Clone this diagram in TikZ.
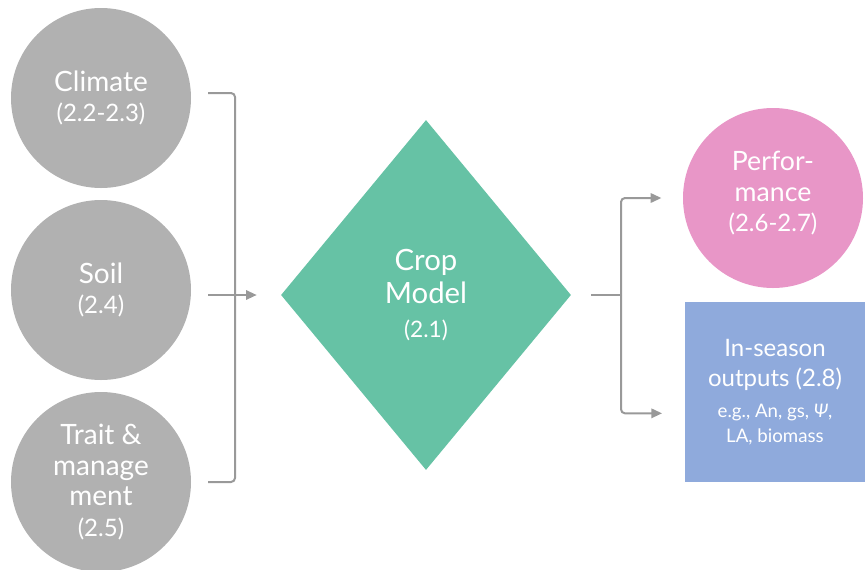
\documentclass[tikz,border=0pt]{standalone}
\usepackage{fontspec}
\setmainfont{Lato}
\usetikzlibrary{positioning}
\usetikzlibrary{shapes.geometric}
\usetikzlibrary {arrows.meta}
\definecolor{cgray}{HTML}{B1B1B1}
\definecolor{cgreen}{HTML}{66C2A5}
\definecolor{cpink}{HTML}{E896C7}
\definecolor{cblue}{HTML}{8FAADC}
\definecolor{cline}{HTML}{999999}

\begin{document}
\begin{tikzpicture}[x=0.75pt, y=-0.75pt]
    \tikzset{
        input/.style={circle, fill=cgray, text=white, align=center, minimum size=135pt, inner sep=0pt, font=\fontsize{21}{23}\selectfont},
        output/.style={circle, fill=cpink, text=white, align=center, minimum size=135pt, inner sep=0pt, font=\fontsize{20}{23}\selectfont},
        model/.style={diamond, fill=cgreen, text=white, align=center, minimum width=217.5pt, minimum height=262.5pt, inner sep=0pt, font=\fontsize{22}{25}\selectfont},
        season/.style={rectangle, fill=cblue, text=white, align=center, minimum width=135pt, minimum height=135pt, inner sep=0pt, font=\fontsize{18}{23}\selectfont}
    }
    \tikzset{
        bracket/.style={draw=cline, line width=1.5pt, rounded corners=3pt},
        flow/.style={bracket, -{Triangle[length=8pt, width=7pt]}}
    }

    \useasboundingbox (0,0) rectangle (865,569);

    \node[input] (climate) at (101,98) {Climate\\{\fontsize{18}{23}\selectfont (2.2-2.3)}};
    \node[input] (soil) at (101,290) {Soil\\{\fontsize{18}{23}\selectfont (2.4)}};
    \node[input] (trait) at (101,482) {Trait \&\\manage\\ment\\{\fontsize{18}{23}\selectfont (2.5)}};

    \node[model] (crop) at (426,295) {Crop\\Model\\{\fontsize{17}{23}\selectfont (2.1)}};

    \node[output] (perf) at (773,198) {Perfor-\\mance\\{\fontsize{18}{23}\selectfont (2.6-2.7)}\\[-13pt]};
    \node[season] (inseason) at (775,392) {In-season\\outputs (2.8)\\{\fontsize{14}{17}\selectfont e.g., An, gs, \textit{Ψ},}\\[-4pt]{\fontsize{14}{17}\selectfont LA, biomass}};

    \coordinate (climate_out) at (208,93);
    \coordinate (soil_out) at (208,295);
    \coordinate (trait_out) at (208,482);
    \coordinate (crop_out) at (621,295);

    \path[bracket] (climate_out) -| (235,482) -- (trait_out);
    \path[flow] (soil_out) -- ([xshift=-18pt]crop.west);
    \path[bracket] ([xshift=15pt]crop.east) -- (crop_out);
    \path[flow] (crop_out) |- ([xshift=-16pt]perf.west);
    \path[flow] (crop_out) |- ([xshift=-17pt, yshift=-16pt]inseason.west);
\end{tikzpicture}
\end{document}
